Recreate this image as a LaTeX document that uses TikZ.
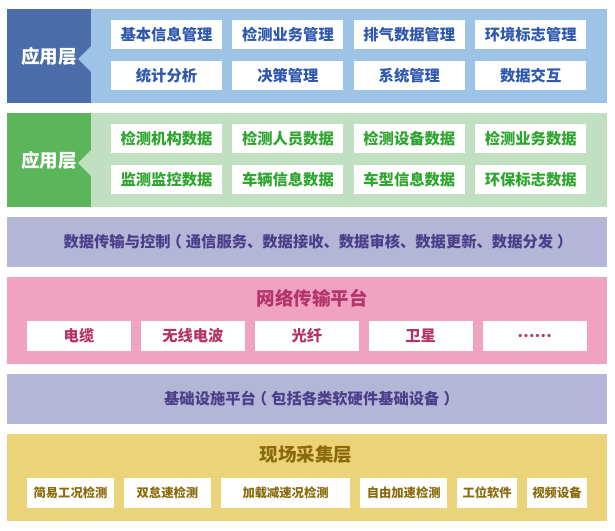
\documentclass[tikz,border=0pt]{standalone}
\usepackage{fontspec}
\setmainfont{Noto Sans CJK SC}
\usetikzlibrary{positioning}

\definecolor{bluelt}{HTML}{9DC3E6}
\definecolor{bluedk}{HTML}{4A6CA8}
\definecolor{bluetx}{HTML}{2F58AE}
\definecolor{greenlt}{HTML}{C1E0C1}
\definecolor{greendk}{HTML}{5BB65B}
\definecolor{greentx}{HTML}{2EA52E}
\definecolor{lavlt}{HTML}{B5B5D7}
\definecolor{lavtx}{HTML}{4C3F8A}
\definecolor{pinklt}{HTML}{F0A3C0}
\definecolor{pinktx}{HTML}{B33468}
\definecolor{yellt}{HTML}{EBD37A}
\definecolor{yeltx}{HTML}{8A6A0A}

\newcommand\fsz[1]{\fontsize{#1}{#1}\selectfont\bfseries}
% centred full-width brackets
\newcommand\lpar{\kern-4pt（\kern4pt}
\newcommand\rpar{\kern4pt）\kern-4pt}

\begin{document}
\begin{tikzpicture}[x=1pt, y=-1pt,
  band/.style={inner sep=0pt, minimum width=600pt},
  lab/.style={fill=#1, inner sep=0pt, minimum width=84pt, minimum height=94pt, text=white, font=\fsz{18.5}},
  cell/.style={fill=white, inner sep=0pt, minimum width=111pt, minimum height=29pt, font=\fsz{15.3}},
  pcell/.style={fill=white, inner sep=0pt, minimum width=104pt, minimum height=29.5pt, text=pinktx, font=\fsz{15.3}},
  ycell/.style={fill=white, inner sep=0pt, minimum width=#1, minimum height=29.5pt, text=yeltx, font=\fsz{12.3}}]
\useasboundingbox (0,0) rectangle (615,530);

% application layer
\node[band, fill=bluelt, minimum height=94pt] (app) at (307,56) {};
\node[lab=bluedk] (lab1) at (49,56) {应用层};
\fill[bluelt] ([yshift=-3pt]lab1.east) ++(0,-13) -- ++(-13,13) -- ++(13,13) -- cycle;
\node[cell, text=bluetx] (a1) at (166.5,34.5) {基本信息管理};
\node[cell, text=bluetx, right=10pt of a1] (a2) {检测业务管理};
\node[cell, text=bluetx, right=10pt of a2] (a3) {排气数据管理};
\node[cell, text=bluetx, right=10pt of a3] (a4) {环境标志管理};
\node[cell, text=bluetx, below=12pt of a1] (a5) {统计分析};
\node[cell, text=bluetx, below=12pt of a2] (a6) {决策管理};
\node[cell, text=bluetx, below=12pt of a3] (a7) {系统管理};
\node[cell, text=bluetx, below=12pt of a4] (a8) {数据交互};

% data layer
\node[band, fill=greenlt, minimum height=94pt] (dat) at (307,160) {};
\node[lab=greendk] (lab2) at (49,160) {应用层};
\fill[greenlt] ([yshift=-3pt]lab2.east) ++(0,-13) -- ++(-13,13) -- ++(13,13) -- cycle;
\node[cell, text=greentx] (d1) at (166.5,138.5) {检测机构数据};
\node[cell, text=greentx, right=10pt of d1] (d2) {检测人员数据};
\node[cell, text=greentx, right=10pt of d2] (d3) {检测设备数据};
\node[cell, text=greentx, right=10pt of d3] (d4) {检测业务数据};
\node[cell, text=greentx, below=12pt of d1] (d5) {监测监控数据};
\node[cell, text=greentx, below=12pt of d2] (d6) {车辆信息数据};
\node[cell, text=greentx, below=12pt of d3] (d7) {车型信息数据};
\node[cell, text=greentx, below=12pt of d4] (d8) {环保标志数据};

\node[band, fill=lavlt, minimum height=49.5pt] (ctl) at (307,241.75) {};
\node[text=lavtx, font=\fsz{15.3}, inner sep=0pt] (ctlt) at (316,241.5)
  {数据传输与控制\lpar 通信服务、数据接收、数据审核、数据更新、数据分发\rpar};

% network
\node[band, fill=pinklt, minimum height=87pt] (net) at (307,320.5) {};
\node[text=pinktx, font=\fsz{18.5}, inner sep=0pt] (nett) at (312,298.5) {网络传输平台};
\node[pcell] (n1) at (79,335.75) {电缆};
\node[pcell, right=9.5pt of n1] (n2) {无线电波};
\node[pcell, right=9.5pt of n2] (n3) {光纤};
\node[pcell, right=9.5pt of n3] (n4) {卫星};
\node[pcell, right=9.5pt of n4] (n5) {……};

\node[band, fill=lavlt, minimum height=50pt] (inf) at (307,399) {};
\node[text=lavtx, font=\fsz{15.3}, inner sep=0pt] (inft) at (309.5,398.5)
  {基础设施平台\lpar 包括各类软硬件基础设备\rpar};

% field layer
\node[band, fill=yellt, minimum height=86.5pt] (fld) at (307,477.25) {};
\node[text=yeltx, font=\fsz{18.5}, inner sep=0pt] (fldt) at (306,455) {现场采集层};
\node[ycell=87pt] (f1) at (70.5,492.75) {简易工况检测};
\node[ycell=87pt, right=9.5pt of f1] (f2) {双怠速检测};
\node[ycell=129.5pt, right=9.5pt of f2] (f3) {加载减速况检测};
\node[ycell=87pt, right=9.5pt of f3] (f4) {自由加速检测};
\node[ycell=60pt, right=9.5pt of f4] (f5) {工位软件};
\node[ycell=60pt, right=9.5pt of f5] (f6) {视频设备};
\end{tikzpicture}
\end{document}
